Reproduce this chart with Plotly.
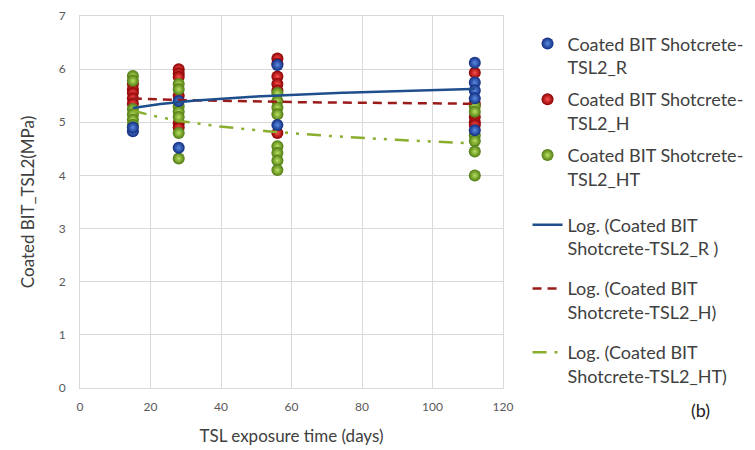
import numpy as np
import plotly.graph_objects as go

# ---- data ----
days = [15, 28, 56, 112]

r_x = [15, 15, 28, 28, 56, 56, 112, 112, 112, 112, 112]
r_y = [4.83, 4.9, 4.52, 5.4, 6.08, 4.95, 6.12, 5.75, 5.6, 5.45, 4.85]

h_x = [15, 15, 15, 15, 15, 28, 28, 28, 28, 28, 28, 56, 56, 56, 56, 56, 56, 112, 112, 112, 112, 112]
h_y = [5.72, 5.62, 5.55, 5.45, 5.35, 6.0, 5.92, 5.85, 5.5, 4.98, 4.9,
       6.2, 6.1, 5.86, 5.72, 5.6, 4.8, 5.93, 5.35, 5.1, 5.0, 4.95]

ht_x = [15, 15, 15, 15, 15, 15, 28, 28, 28, 28, 28, 28, 28,
        56, 56, 56, 56, 56, 56, 56, 56, 112, 112, 112, 112, 112, 112]
ht_y = [5.87, 5.78, 5.25, 5.15, 5.05, 4.95, 5.72, 5.62, 5.3, 5.2, 5.1, 4.8, 4.32,
        5.55, 5.4, 5.28, 5.15, 4.55, 4.42, 4.28, 4.1, 5.3, 5.2, 4.75, 4.65, 4.45, 4.0]

# logarithmic trend lines y = a*ln(x) + b (coefficients)
trend_r = (0.179, 4.785)
trend_h = (-0.05, 5.585)
trend_ht = (-0.308, 6.055)

names = ["Coated BIT Shotcrete-<br>TSL2_R",
         "Coated BIT Shotcrete-<br>TSL2_H",
         "Coated BIT Shotcrete-<br>TSL2_HT",
         "Log. (Coated BIT<br>Shotcrete-TSL2_R )",
         "Log. (Coated BIT<br>Shotcrete-TSL2_H)",
         "Log. (Coated BIT<br>Shotcrete-TSL2_HT)"]

x_ticks = [0, 20, 40, 60, 80, 100, 120]
y_ticks = [0, 1, 2, 3, 4, 5, 6, 7]

FONT = "Lato"
fig = go.Figure()

def pts(x, y, name, edge, center, g, rank):
    fig.add_trace(go.Scatter(
        x=x, y=y, mode="markers", name=name, legendgroup=g, legend="legend",
        legendrank=rank,
        marker=dict(size=12, color=edge, line=dict(width=0),
                    gradient=dict(type="radial", color=center))))

pts(h_x, h_y, names[1], "#8a0000", "#ff5050", "h", 2)
pts(ht_x, ht_y, names[2], "#4f7a10", "#b8e060", "ht", 3)
pts(r_x, r_y, names[0], "#102c80", "#5a8ae0", "r", 1)

xs = np.linspace(min(days), max(days), 200)

def trend(coef, name, color, dash, g, rank):
    a, b = coef
    fig.add_trace(go.Scatter(
        x=xs, y=a * np.log(xs) + b, mode="lines", name=name, legendgroup=g,
        legend="legend2", legendrank=rank,
        line=dict(color=color, width=2.5, dash=dash)))

trend(trend_h, names[4], "#9b1b1b", "9px,6px", "th", 5)
trend(trend_ht, names[5], "#8aae2e", "14px,8px,3px,8px,3px,8px", "tht", 6)
trend(trend_r, names[3], "#1f4e8c", "solid", "tr", 4)

legend_common = dict(xanchor="left", yanchor="top", valign="top",
                     font=dict(size=18, color="#404040", family=FONT),
                     itemwidth=30, bgcolor="rgba(0,0,0,0)")

fig.update_layout(
    width=755, height=450,
    margin=dict(l=80, r=252, t=16, b=62, autoexpand=False),
    paper_bgcolor="white", plot_bgcolor="white",
    font=dict(family=FONT, color="#404040"),
    showlegend=True,
    legend=dict(x=1.058, y=0.975, tracegroupgap=6, **legend_common),
    legend2=dict(x=1.058, y=0.488, tracegroupgap=14, **legend_common),
    xaxis=dict(range=[0, 120], tickvals=x_ticks, showgrid=True, gridcolor="#d9d9d9",
               gridwidth=1, zeroline=False, showline=True, linecolor="#d9d9d9", mirror=True,
               automargin=False,
               ticks="", ticklabelstandoff=8, tickfont=dict(size=12, color="#595959"),
               title=dict(text="TSL exposure time (days)", font=dict(size=17, color="#404040"),
                          standoff=16)),
    yaxis=dict(range=[0, 7], tickvals=y_ticks, showgrid=True, gridcolor="#d9d9d9",
               gridwidth=1, zeroline=False, showline=True, linecolor="#d9d9d9", mirror=True,
               automargin=False,
               ticks="", ticklabelstandoff=11, tickfont=dict(size=12, color="#595959"),
               title=dict(text="Coated BIT_TSL2(MPa)", font=dict(size=17, color="#404040"),
                          standoff=19)),
    annotations=[dict(text="(b)", xref="paper", yref="paper", x=1.44, y=-0.06,
                      xanchor="left", yanchor="middle", showarrow=False,
                      font=dict(size=18, color="#202020", family=FONT))],
)

fig.write_html("out.html")
